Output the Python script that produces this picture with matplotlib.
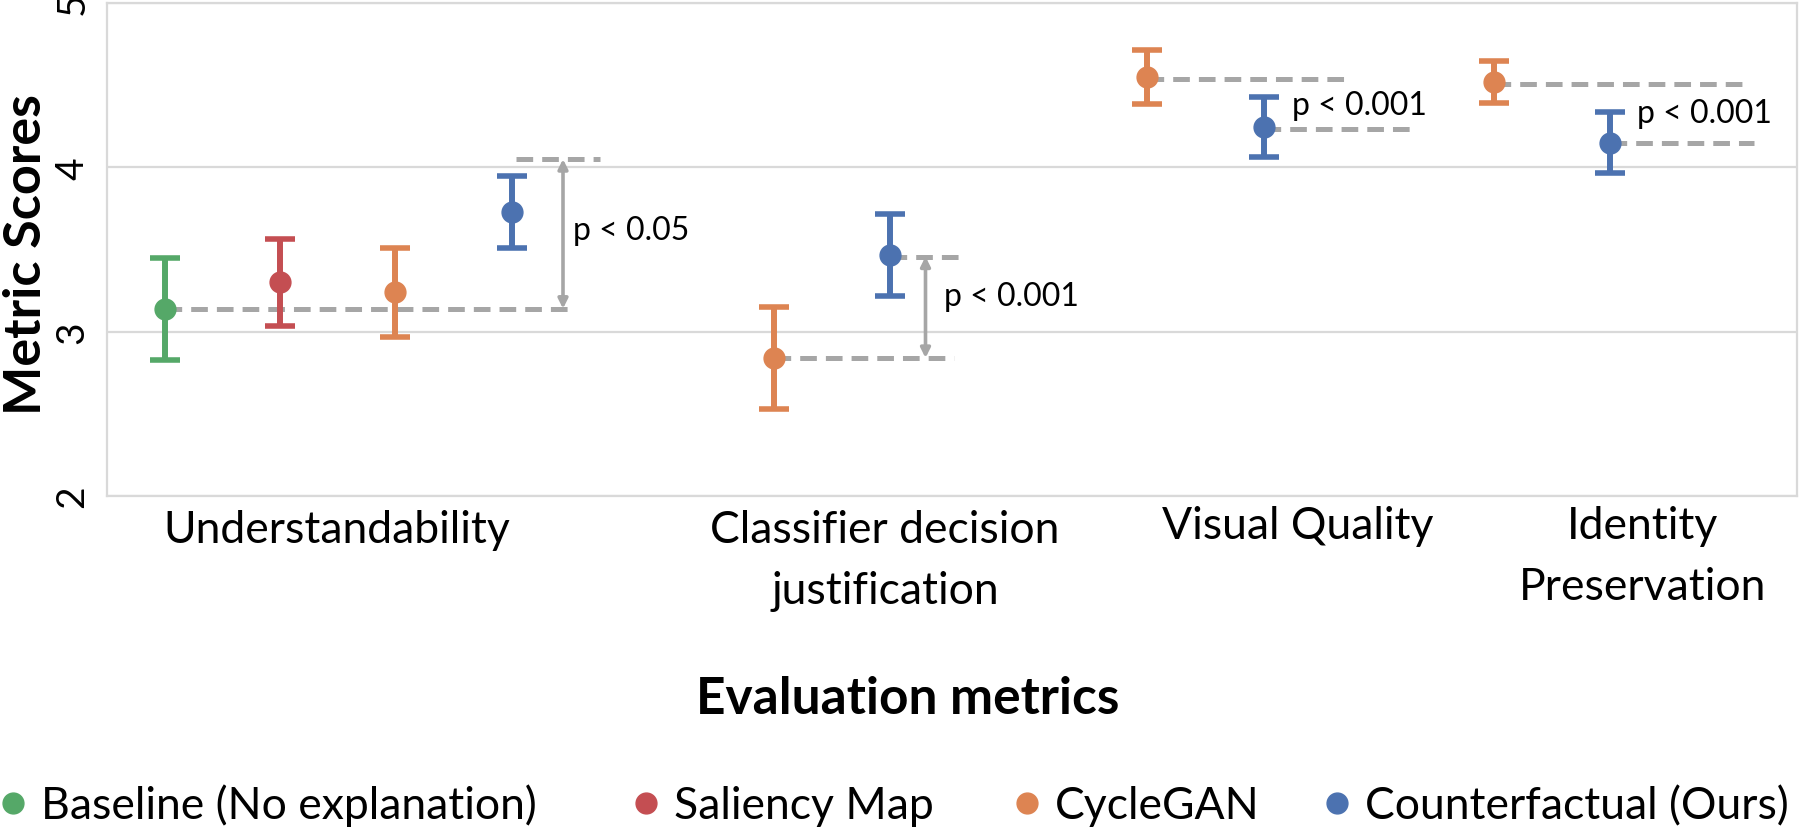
import matplotlib
matplotlib.use('Agg')
import matplotlib.pyplot as plt
from matplotlib.lines import Line2D

plt.rcParams['font.family'] = ['Lato', 'DejaVu Sans']
plt.rcParams['lines.scale_dashes'] = False

# ---------------- data ----------------
metrics = ['Understandability', 'Classifier decision\njustification',
           'Visual Quality', 'Identity\nPreservation']
metric_label_x = [2.30, 7.78, 11.91, 15.36]

methods = ['Baseline (No explanation)', 'Saliency Map', 'CycleGAN',
           'Counterfactual (Ours)']
colors = ['#55A868', '#C44E52', '#DD8452', '#4C72B0']

baseline_x = [0.58]
baseline_mean = [3.14]
baseline_err = [0.31]

saliency_x = [1.73]
saliency_mean = [3.30]
saliency_err = [0.265]

cyclegan_x = [2.88, 6.67, 10.40, 13.87]
cyclegan_mean = [3.24, 2.84, 4.55, 4.52]
cyclegan_err = [0.27, 0.31, 0.166, 0.13]

cf_x = [4.05, 7.83, 11.57, 15.03]
cf_mean = [3.73, 3.465, 4.245, 4.15]
cf_err = [0.22, 0.25, 0.183, 0.185]

# significance annotations
ref_line_y = [3.14, 2.84, 4.54, 4.51]
ref_line_x0 = [0.58, 6.67, 10.40, 13.87]
ref_line_x1 = [4.64, 8.47, 12.43, 16.38]
cmp_line_y = [4.05, 3.457, 4.233, 4.15]
cmp_line_x0 = [4.09, 7.83, 11.57, 15.03]
cmp_line_x1 = [4.93, 8.59, 13.06, 16.47]
arrow_x = [4.56, 8.185]
arrow_y0 = [3.14, 2.84]
arrow_y1 = [4.05, 3.457]
p_text = ['p < 0.05', 'p < 0.001', 'p < 0.001', 'p < 0.001']
p_text_x = [4.66, 8.37, 11.85, 15.30]
p_text_y = [3.62, 3.22, 4.38, 4.33]

yticks = [2, 3, 4, 5]

# ---------------- figure ----------------
fig = plt.figure(figsize=(18, 8.29), dpi=100)
ax = fig.add_axes([107 / 1800, 1 - 497 / 829, (1797 - 107) / 1800, (497 - 4) / 829])

grid_c = '#D9D9D9'
gray = '#A6A6A6'

series = [(baseline_x, baseline_mean, baseline_err),
          (saliency_x, saliency_mean, saliency_err),
          (cyclegan_x, cyclegan_mean, cyclegan_err),
          (cf_x, cf_mean, cf_err)]
for (xs, ms, es), c, lab in zip(series, colors, methods):
    ax.errorbar(xs, ms, yerr=es, fmt='o', color=c, ecolor=c, markersize=15,
                elinewidth=4.3, capsize=10.5, capthick=4, zorder=3, label=lab)

for y, x0, x1 in zip(ref_line_y, ref_line_x0, ref_line_x1):
    ax.plot([x0, x1], [y, y], color=gray, lw=3.6, dashes=(12, 6.5), zorder=2)
for y, x0, x1 in zip(cmp_line_y, cmp_line_x0, cmp_line_x1):
    ax.plot([x0, x1], [y, y], color=gray, lw=3.6, dashes=(12, 6.5), zorder=2)
for x, y0, y1 in zip(arrow_x, arrow_y0, arrow_y1):
    ax.annotate('', xy=(x, y1), xytext=(x, y0),
                arrowprops=dict(arrowstyle='<|-|>', color=gray, lw=2.6,
                                mutation_scale=14, shrinkA=0, shrinkB=0),
                zorder=2)
for t, x, y in zip(p_text, p_text_x, p_text_y):
    ax.text(x, y, t, fontsize=23, ha='left', va='center', color='black')

ax.set_xlim(0, 16.9)
ax.set_ylim(2, 5)
ax.set_yticks(yticks)
ax.set_yticklabels([str(v) for v in yticks])
ax.set_xticks([])
ax.tick_params(axis='y', length=0, pad=12, labelsize=28)
for lbl in ax.get_yticklabels():
    lbl.set_rotation(90)
    lbl.set_va('center')
ax.grid(axis='y', color=grid_c, lw=1.6)
ax.set_axisbelow(True)
for s in ax.spines.values():
    s.set_color(grid_c)
    s.set_linewidth(1.6)

label_top = [-0.026, -0.026, -0.018, -0.018]
for name, x, yt in zip(metrics, metric_label_x, label_top):
    ax.text(x, yt, name, transform=ax.get_xaxis_transform(), ha='center',
            va='top', fontsize=32, linespacing=1.62)

fig.text(0.5044, 1 - 714 / 829, 'Evaluation metrics', ha='center',
         va='baseline', fontsize=37, fontweight='bold')
fig.text(27 / 1800, 1 - 255 / 829, 'Metric Scores', ha='center', va='center',
         rotation=90, fontsize=37.5, fontweight='bold')

# legend: one entry per method, placed along the bottom
legend_anchor_x = [2 / 1800, 635 / 1800, 1016 / 1800, 1326 / 1800]
for c, m, lx in zip(colors, methods, legend_anchor_x):
    h = Line2D([], [], marker='o', linestyle='none', color=c, markersize=15)
    fig.legend([h], [m], loc='lower left', bbox_to_anchor=(lx, 0.002),
               frameon=False, fontsize=32, handlelength=0.5,
               handletextpad=0.37, borderpad=0, borderaxespad=0)

fig.savefig('out.png', dpi=100)
